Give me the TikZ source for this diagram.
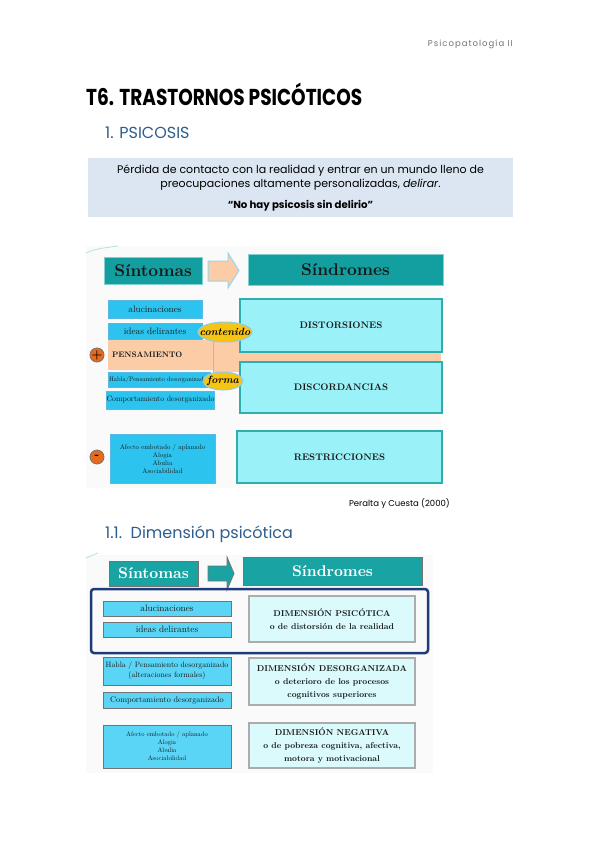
\documentclass[tikz,border=0pt]{standalone}
\usepackage{fontspec}
\usepackage{graphicx}
\usetikzlibrary{positioning, shapes.geometric}
\setmainfont{lmroman10}[Extension=.otf, UprightFont=*-regular, BoldFont=*-bold, ItalicFont=*-italic, BoldItalicFont=*-bolditalic]
\newfontfamily\gothic{Poppins}

\definecolor{tealhead}{HTML}{139FA0}
\definecolor{tealheadB}{HTML}{1AA3A3}
\definecolor{cyanbox}{HTML}{9AF2F8}
\definecolor{cyanline}{HTML}{30ADAE}
\definecolor{skybox}{HTML}{2CC4EE}
\definecolor{skyline}{HTML}{5AB9E3}
\definecolor{peach}{HTML}{FBCCA6}
\definecolor{yellowtag}{HTML}{F5C414}
\definecolor{signorange}{HTML}{E66B1E}
\definecolor{lightbox}{HTML}{DAFAFC}
\definecolor{skyboxB}{HTML}{5BD5F6}
\definecolor{navy}{HTML}{1D3B78}
\definecolor{secblue}{HTML}{2D5E8E}
\definecolor{infobox}{HTML}{DCE6F2}

\begin{document}
\begin{tikzpicture}[
  x=1pt, y=-1pt,
  node distance=5pt,
  txt/.style={inner sep=0, anchor=base west},
  boxA/.style={rectangle, inner sep=0, text=black!90, align=center},
  headA/.style={boxA, fill=tealhead, draw=cyanline!60, line width=1pt, font=\bfseries\fontsize{17}{17}\selectfont, minimum height=27pt},
  sinA/.style={boxA, fill=skybox, draw=skyline, line width=.6pt, font=\fontsize{9.3}{10}\selectfont, minimum width=94pt},
  sindA/.style={boxA, fill=cyanbox, draw=cyanline, line width=1.2pt, font=\bfseries\fontsize{9.5}{10}\selectfont, minimum width=202pt},
  tag/.style={ellipse, fill=yellowtag, draw=skyline!70, line width=1pt, inner xsep=-6.5pt, inner ysep=0, font=\bfseries\itshape\fontsize{10.5}{11}\selectfont},
  sign/.style={circle, fill=signorange, draw=black!55, line width=.8pt, minimum size=14pt, inner sep=0, font=\bfseries\fontsize{12}{12}\selectfont},
  headB/.style={boxA, fill=tealheadB, draw=black!55, line width=1pt, text=white, font=\bfseries\fontsize{15.5}{16}\selectfont},
  sinB/.style={boxA, fill=skyboxB, draw=black!55, line width=.7pt, minimum width=128pt},
  dimB/.style={boxA, fill=lightbox, draw=gray!65, line width=1.5pt, minimum width=166pt, font=\bfseries\fontsize{8.5}{13}\selectfont},
  grupo/.style={rectangle, draw=navy, line width=2.5pt, rounded corners=3pt, inner sep=0}
]
\useasboundingbox[fill=white] (0,0) rectangle (599,848);

% page heading
\node[txt, anchor=base east, text=black!55, font=\gothic\fontsize{8.5}{10}\selectfont\addfontfeature{LetterSpace=12}] (hdr) at (513,47) {Psicopatología II};
\node[txt] (title) at (86,106) {\resizebox{276pt}{\height}{\gothic\bfseries\fontsize{23}{23}\selectfont T6. TRASTORNOS PSICÓTICOS}};
\node[txt, text=secblue, font=\gothic\fontsize{16}{16}\selectfont] (sec1) at (105,139) {1. PSICOSIS};

% definition
\fill[infobox] (88,158) rectangle (513,217);
\node[txt, anchor=base, font=\gothic\fontsize{11}{12}\selectfont] (defA) at (300.5,173) {Pérdida de contacto con la realidad y entrar en un mundo lleno de};
\node[txt, anchor=base, font=\gothic\fontsize{11}{12}\selectfont] (defB) at (300.5,187) {preocupaciones altamente personalizadas, \textit{delirar}.};
\node[txt, anchor=base, font=\gothic\bfseries\fontsize{10.2}{12}\selectfont] (defC) at (300.5,208) {“No hay psicosis sin delirio”};

% first scheme
\fill[gray!4] (86,246) rectangle (441,488);
\draw[cyanline!35, line width=.8pt] (86,253) .. controls (96,249) .. (118,246);
\node[headA, minimum width=98pt] (sintA) at (153,270.5) {Síntomas};
\node[headA, minimum width=195pt, minimum height=31pt] (sindA) at (345.5,269.5) {Síndromes};
\filldraw[fill=peach, draw=skyline!60, line width=1pt] (208,261) -- (228,261) -- (228,253) -- (239,270.5) -- (228,288) -- (228,281) -- (208,281) -- cycle;

\fill[peach] (213,323) rectangle (240,372);
\fill[peach] (240,352) rectangle (441,361);
\node[sinA, minimum height=18pt] (aluc) at (155,309) {alucinaciones};
\node[sinA, minimum height=16pt] (ideas) at (155,331) {ideas delirantes};
\node[boxA, fill=peach, minimum width=105pt, minimum height=30pt, text width=97pt, align=left, font=\bfseries\fontsize{8}{9}\selectfont] (pens) at (160.5,355) {PENSAMIENTO};
\node[sinA, minimum width=102pt, minimum height=15pt, text width=100pt, align=left, font=\fontsize{6.5}{7}\selectfont] (habla) at (159,379.5) {\mbox{Habla/Pensamiento desorganizado}};
\node[sinA, minimum width=105pt, minimum height=18pt, font=\fontsize{7.8}{8}\selectfont] (comp) at (160.5,400) {Comportamiento desorganizado};
\draw[peach!60!brown, line width=.7pt] (213,323) -- (213,388);
\node[sign] (mas) at (97,355) {+};
\node[sign] (menos) at (97,457) {-};
\node[sinA, minimum width=105pt, minimum height=49pt, font=\fontsize{6.8}{8}\selectfont] (afecto) at (162.5,458.5) {Afecto embotado / aplanado\\Alogia\\Abulia\\Asociabilidad};

\node[sindA, minimum height=53pt] (dist) at (341,325.5) {DISTORSIONES};
\node[sindA, minimum height=51pt] (disc) at (341,387.5) {DISCORDANCIAS};
\node[sindA, minimum width=205pt, minimum height=52pt] (restr) at (339.5,457) {RESTRICCIONES};
\node[tag, minimum width=54pt, minimum height=20pt] (contenido) at (225,332) {contenido};
\node[tag, minimum width=40pt, minimum height=18pt] (forma) at (223,381) {forma};

\node[txt, anchor=base east, font=\gothic\fontsize{8.5}{9}\selectfont] (cita) at (450,506) {Peralta y Cuesta (2000)};

% second scheme
\node[txt, text=secblue, font=\gothic\fontsize{16}{16}\selectfont] (sec11) at (105,538) {1.1.\ \ Dimensión psicótica};
\fill[gray!4] (86,555) rectangle (433,773);
\draw[cyanline!35, line width=.8pt] (86,558) -- (98,553);
\node[headB, minimum width=89pt, minimum height=25pt] (sintB) at (153.5,573.5) {Síntomas};
\node[headB, minimum width=179pt, minimum height=28pt] (sindB) at (332.5,571) {Síndromes};
\filldraw[fill=tealheadB, draw=black!55, line width=.8pt] (208,566) -- (227,566) -- (227,557) -- (234,573.5) -- (227,590) -- (227,581) -- (208,581) -- cycle;

\node[grupo, minimum width=337pt, minimum height=64pt] (marco) at (259.5,621) {};
\node[sinB, minimum height=15pt, font=\fontsize{9.3}{10}\selectfont] (alucB) at (167,608.5) {alucinaciones};
\node[sinB, minimum height=15pt, font=\fontsize{9.3}{10}\selectfont] (ideasB) at (167,629.5) {ideas delirantes};
\node[dimB, minimum height=46pt] (dimP) at (332,619) {DIMENSIÓN PSICÓTICA\\o de distorsión de la realidad};

\node[sinB, minimum height=28pt, font=\fontsize{7.8}{10}\selectfont] (hablaB) at (167,671) {Habla / Pensamiento desorganizado\\(alteraciones formales)};
\node[sinB, minimum height=16pt, font=\fontsize{8.2}{9}\selectfont] (compB) at (167,700) {Comportamiento desorganizado};
\node[dimB, minimum height=47pt] (dimD) at (332,681.5) {DIMENSIÓN DESORGANIZADA\\o deterioro de los procesos\\cognitivos superiores};

\node[sinB, minimum height=43pt, font=\fontsize{6.5}{8}\selectfont] (afectoB) at (167,746.5) {Afecto embotado / aplanado\\Alogia\\Abulia\\Asociabilidad};
\node[dimB, minimum height=45pt] (dimN) at (332,745.5) {DIMENSIÓN NEGATIVA\\o de pobreza cognitiva, afectiva,\\motora y motivacional};
\end{tikzpicture}
\end{document}
